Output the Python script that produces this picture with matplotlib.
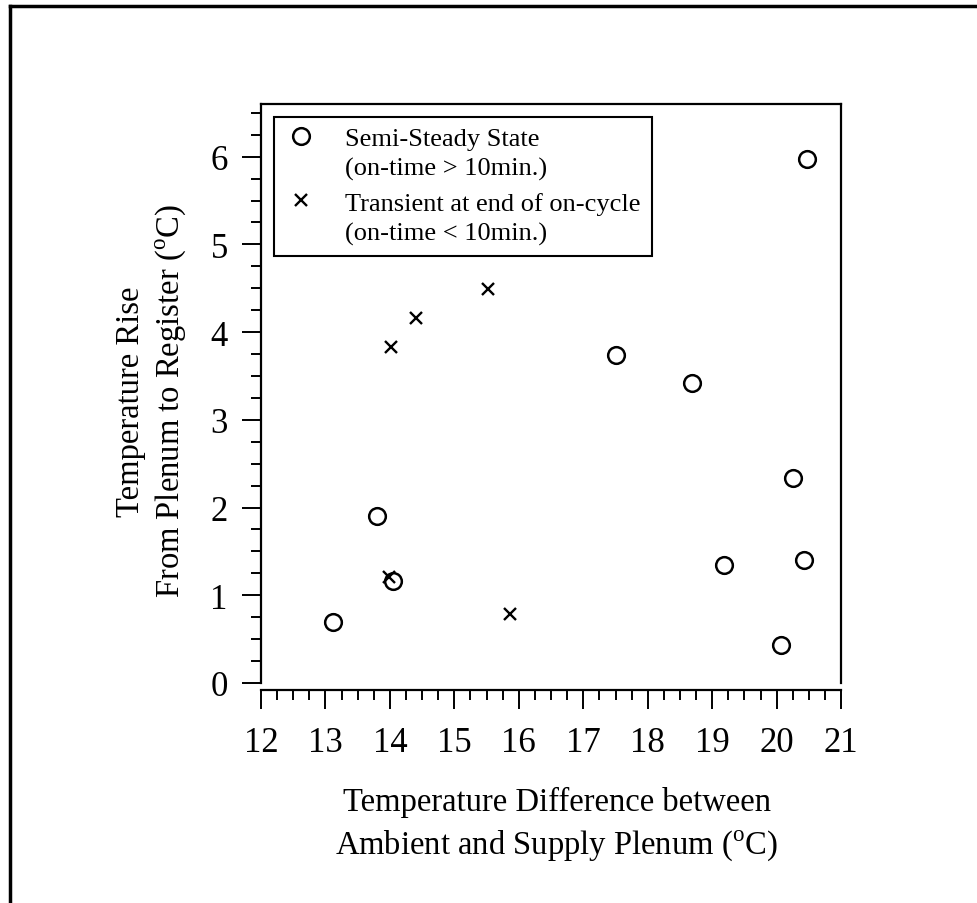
import matplotlib
matplotlib.use("Agg")
import numpy as np
import matplotlib.pyplot as plt
from matplotlib.lines import Line2D
from matplotlib.legend_handler import HandlerLine2D
from matplotlib.ticker import MultipleLocator

plt.rcParams['font.family'] = ['Liberation Serif', 'DejaVu Serif']
plt.rcParams['mathtext.fontset'] = 'custom'
plt.rcParams['mathtext.rm'] = 'Liberation Serif'

# semi-steady state points (circles)
steady_x = [13.12, 13.80, 14.05, 17.50, 18.69, 20.47, 20.26, 19.18, 20.43, 20.07]
steady_y = [0.69, 1.90, 1.16, 3.74, 3.42, 5.97, 2.34, 1.35, 1.40, 0.43]

# transient points (crosses)
trans_x = [15.52, 14.40, 14.02, 13.99, 15.86]
trans_y = [4.49, 4.16, 3.83, 1.21, 0.79]

labels = ['Semi-Steady State\n(on-time > 10min.)',
          'Transient at end of on-cycle\n(on-time < 10min.)']


class FirstLineHandler(HandlerLine2D):
    # put the marker next to the first line of a two-line label
    def create_artists(self, legend, orig_handle, xdescent, ydescent,
                       width, height, fontsize, trans):
        arts = super().create_artists(legend, orig_handle, xdescent, ydescent,
                                      width, height, fontsize, trans)
        for a in arts:
            a.set_ydata(np.asarray(a.get_ydata()) + 0.66 * fontsize)
        return arts


fig = plt.figure(figsize=(9.78, 9.04), dpi=100)
ax = fig.add_axes([0.2669, 0.2434, 0.5931, 0.6404])

h1, = ax.plot(steady_x, steady_y, 'o', mfc='none', mec='k', ms=12, mew=1.8)
h2, = ax.plot(trans_x, trans_y, 'x', color='k', ms=9, mew=1.7)

ax.set_xlim(12, 21)
ax.set_ylim(0, 6.6)
ax.xaxis.set_major_locator(MultipleLocator(1))
ax.xaxis.set_minor_locator(MultipleLocator(0.25))
ax.yaxis.set_major_locator(MultipleLocator(1))
ax.yaxis.set_minor_locator(MultipleLocator(0.25))

ax.spines['bottom'].set_position(('outward', 5))
for s in ax.spines.values():
    s.set_linewidth(1.6)

ax.tick_params(which='both', direction='out', width=1.4, labelsize=25)
ax.tick_params(which='major', length=14)
ax.tick_params(which='minor', length=7.5)
ax.tick_params(axis='x', pad=12)
ax.tick_params(axis='y', pad=10)

ax.set_xlabel('Temperature Difference between\nAmbient and Supply Plenum ($^{\\rm o}$C)',
              fontsize=23.5, linespacing=1.4)
ax.set_ylabel('Temperature Rise\nFrom Plenum to Register ($^{\\rm o}$C)',
              fontsize=23.5, linespacing=1.28)
ax.xaxis.set_label_coords(0.51, -0.178)
ax.yaxis.set_label_coords(-0.126, 0.488)

handler = FirstLineHandler()
leg = ax.legend([h1, h2], labels, loc='upper left',
                handler_map={h1: handler, h2: handler},
                fontsize=19, frameon=True, fancybox=False, edgecolor='k',
                framealpha=1, borderaxespad=0.5, handlelength=1.2,
                handletextpad=1.1, labelspacing=0.45, borderpad=0.4)
leg.get_frame().set_linewidth(1.5)
for t in leg.get_texts():
    t.set_linespacing(1.4)

# outer frame of the scanned page (top and left only)
fig.add_artist(Line2D([0.0102, 1.0], [0.992, 0.992], color='k', lw=2.5))
fig.add_artist(Line2D([0.0102, 0.0102], [0.0, 0.992], color='k', lw=2.5))

fig.savefig('out.png', dpi=100)
